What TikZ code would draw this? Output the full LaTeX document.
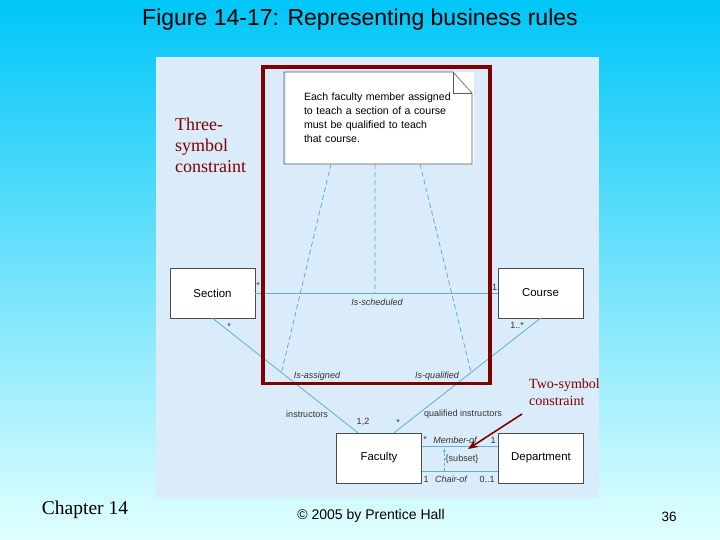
\documentclass[tikz,border=0pt]{standalone}
\usepackage{fontspec}
\setmainfont{Liberation Serif}
\setsansfont{Liberation Sans}
\usetikzlibrary{calc, arrows.meta}
\definecolor{bgtop}{RGB}{0,198,248}
\definecolor{bgbot}{RGB}{226,255,255}
\definecolor{panel}{RGB}{218,235,250}
\definecolor{linkblue}{RGB}{88,178,218}
\definecolor{darkred}{RGB}{128,0,0}

\begin{document}
\begin{tikzpicture}[x=1pt, y=-1pt,
        box/.style={
            rectangle,
            draw=black!70,
            fill=white,
            minimum width=85pt,
            minimum height=50pt,
            inner sep=0pt,
            font=\sffamily\fontsize{11.4}{13}\selectfont
        },
        assoc/.style={draw=linkblue, line width=0.8pt},
        ref/.style={assoc, dash pattern=on 5pt off 3pt},
        mult/.style={inner sep=0pt, text=black!80, font=\sffamily\fontsize{9}{10}\selectfont},
        role/.style={inner sep=0pt, text=black!80, font=\sffamily\itshape\fontsize{9}{10}\selectfont},
        callout/.style={inner sep=0pt, text=darkred, align=left},
        redarrow/.style={darkred, line width=1.6pt, -{Stealth[length=10pt, width=8pt]}}
    ]
    \useasboundingbox (0,0) rectangle (720,540);

    % Background
    \shade[top color=bgtop, bottom color=bgbot] (0,0) rectangle (720,540);
    \fill[panel] (156,57) rectangle (599,498);

    % Title and footer
    \node (title) at (360,20) {\sffamily\fontsize{23}{26}\selectfont Figure 14-17: Representing business rules};
    \node (chap) at (85,510) {\fontsize{19.5}{22}\selectfont Chapter 14};
    \node (copy) at (371,516) {\sffamily\fontsize{14}{16}\selectfont \textcopyright{} 2005 by Prentice Hall};
    \node (page) at (669,517) {\sffamily\fontsize{13.5}{16}\selectfont 36};

    % Note
    \node (note) [fill=white, minimum width=188pt, minimum height=92pt, inner sep=0pt,
        text width=152pt, align=left, font=\sffamily\fontsize{10.6}{14}\selectfont]
        at (380,118) {Each faculty member assigned\\to teach a section of a course\\must be qualified to teach\\that course.};
    \draw[black!65, line width=0.6pt] (284,72) -- (453,72) -- (472,93) -- (472,164) -- (284,164) -- cycle;
    \draw[black!65, line width=0.6pt] (453,72) -- (453,93) -- (472,93);

    % Classes
    \node (sec) [box] at (212.5,293) {Section};
    \node (crs) [box] at (540.5,293) {Course};
    \node (fac) [box] at (379,458) {Faculty};
    \node (dep) [box] at (541,458) {Department};

    % Associations
    \draw[assoc] (sec.east) -- coordinate[pos=0.494] (sch) (crs.west);
    \draw[assoc] (sec.south) -- coordinate[pos=0.474] (asg) ([xshift=-21pt]fac.north);
    \draw[assoc] (crs.south) -- coordinate[pos=0.474] (qual) ([xshift=15pt]fac.north);
    \draw[assoc] ([yshift=12pt]fac.east) -- coordinate[pos=0.295] (mem) ([yshift=12pt]dep.west);
    \draw[assoc] ([yshift=-13pt]fac.east) -- coordinate[pos=0.295] (chr) ([yshift=-13pt]dep.west);

    % Constraint lines
    \draw[ref] (331,164) -- (asg);
    \draw[ref] (375,164) -- (sch);
    \draw[ref] (420,164) -- (qual);
    \draw[ref, dash pattern=on 3pt off 2pt, -{Latex[length=4pt, width=3pt]}] (chr) -- ([yshift=-2pt]mem);

    % Labels
    \node (m1) [mult] at (258,285) {*};
    \node (m2) [mult] at (494.5,287) {1};
    \node (m3) [mult] at (229,326) {*};
    \node (m4) [mult] at (517,325) {1..*};
    \node (m5) [mult] at (363,422) {1,2};
    \node (m6) [mult] at (398,422) {*};
    \node (m7) [mult] at (425,439) {*};
    \node (m8) [mult] at (493,440) {1};
    \node (m9) [mult] at (426,479) {1};
    \node (m10) [mult] at (487,479) {0..1};
    \node (r1) [role] at (377,302) {Is-scheduled};
    \node (r2) [role] at (317,376) {Is-assigned};
    \node (r3) [role] at (437,376) {Is-qualified};
    \node (r4) [mult] at (307,414) {instructors};
    \node (r5) [mult] at (463,414) {qualified instructors};
    \node (r6) [role] at (455,440) {Member-of};
    \node (r7) [role] at (451,479) {Chair-of};
    \node (r8) [mult] at (462,459) {\{subset\}};

    % Constraint callouts
    \draw[darkred, line width=3.5pt] (263,67) rectangle (490,383.5);
    \node (three) [callout, anchor=west, font=\fontsize{18}{21}\selectfont] at (175,145) {Three-\\symbol\\constraint};
    \node (two) [callout, anchor=west, font=\fontsize{14}{17}\selectfont] at (529,392) {Two-symbol\\constraint};
    \coordinate (tail) at (522,414);
    \coordinate (tip) at (468,449);
    \draw[redarrow] (tail) -- (tip);

\end{tikzpicture}
\end{document}
